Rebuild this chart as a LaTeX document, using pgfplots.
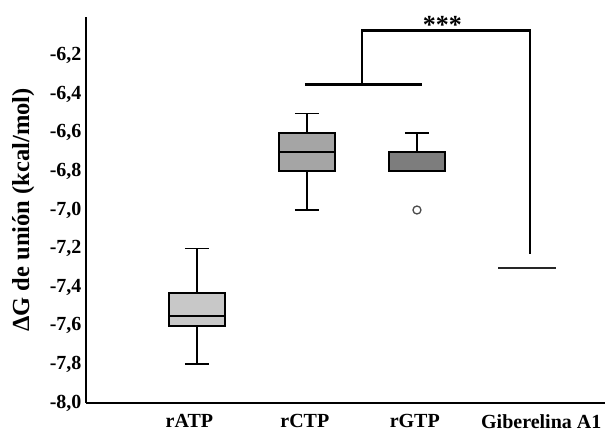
\documentclass[border=0pt]{standalone}
\usepackage{fontspec}
\setmainfont{Liberation Serif}
\usepackage{pgfplots}
\pgfplotsset{compat=1.18}
\definecolor{boxA}{RGB}{200,200,200}
\definecolor{boxC}{RGB}{165,165,165}
\definecolor{boxG}{RGB}{125,125,125}
\begin{document}
\begin{tikzpicture}
\begin{axis}[
  scale only axis, width=519pt, height=386pt,
  xmin=-1.01, xmax=3.71, ymin=-8, ymax=-6.0,
  axis x line=bottom, axis y line=left,
  axis line style={-, line width=2.5pt},
  major tick length=0pt,
  % ticks are invisible: label positions follow the reference
  xtick={-0.07,0.98,1.98,3.13}, xticklabels={rATP,rCTP,rGTP,Giberelina A1},
  ytick={-8,-7.8,-7.6,-7.4,-7.2,-7,-6.8,-6.6,-6.4,-6.2},
  /pgf/number format/fixed,
  /pgf/number format/fixed zerofill,
  /pgf/number format/precision=1,
  /pgf/number format/use comma,
  /pgf/number format/assume math mode=true,
  tick label style={font=\fontsize{20}{22}\selectfont\bfseries},
  xticklabel style={yshift=-8pt},
  yticklabel style={xshift=-1pt},
  ylabel={ΔG de unión (kcal/mol)},
  every axis y label/.style={at={(axis description cs:-0.121,0.5)}, rotate=90, anchor=center,
    font=\fontsize{24.5}{27}\selectfont\bfseries},
  clip=false,
]
% rATP
\addplot[black, line width=1.8pt] coordinates {(0,-7.6) (0,-7.8)};
\addplot[black, line width=1.8pt] coordinates {(0,-7.43) (0,-7.2)};
\addplot[black, line width=1.8pt] coordinates {(-0.11,-7.8) (0.11,-7.8)};
\addplot[black, line width=1.8pt] coordinates {(-0.11,-7.2) (0.11,-7.2)};
\addplot[draw=black, fill=boxA, line width=1.8pt] coordinates {(-0.255,-7.6) (0.255,-7.6) (0.255,-7.43) (-0.255,-7.43)} --cycle;
\addplot[black, line width=1.8pt] coordinates {(-0.255,-7.55) (0.255,-7.55)};
% rCTP
\addplot[black, line width=1.8pt] coordinates {(1,-6.8) (1,-7.0)};
\addplot[black, line width=1.8pt] coordinates {(1,-6.6) (1,-6.5)};
\addplot[black, line width=1.8pt] coordinates {(0.89,-7.0) (1.11,-7.0)};
\addplot[black, line width=1.8pt] coordinates {(0.89,-6.5) (1.11,-6.5)};
\addplot[draw=black, fill=boxC, line width=1.8pt] coordinates {(0.745,-6.8) (1.255,-6.8) (1.255,-6.6) (0.745,-6.6)} --cycle;
\addplot[black, line width=1.8pt] coordinates {(0.745,-6.7) (1.255,-6.7)};
% rGTP
\addplot[black, line width=1.8pt] coordinates {(2,-6.7) (2,-6.6)};
\addplot[black, line width=1.8pt] coordinates {(1.89,-6.6) (2.11,-6.6)};
\addplot[draw=black, fill=boxG, line width=1.8pt] coordinates {(1.745,-6.8) (2.255,-6.8) (2.255,-6.7) (1.745,-6.7)} --cycle;
\addplot[only marks, mark=o, mark size=4pt, mark options={draw=black!70, line width=1.3pt}] coordinates {(2,-7.0)};
% Giberelina A1 (all values equal)
\addplot[black!85, line width=1.8pt] coordinates {(2.74,-7.3) (3.26,-7.3)};
% significance bracket
\draw[line width=2.5pt] (axis cs:0.98,-6.35) -- (axis cs:2.05,-6.35);
\draw[line width=2.5pt] (axis cs:1.5,-6.35) -- (axis cs:1.5,-6.07) -- (axis cs:3.03,-6.07) -- (axis cs:3.03,-7.23);
\node[anchor=base, inner sep=0pt, font=\fontsize{26}{28}\selectfont\bfseries] at (axis cs:2.23,-6.085) {***};
\end{axis}
\pgfresetboundingbox
\path (-86pt,-30pt) rectangle (519pt,403pt);
\end{tikzpicture}
\end{document}
